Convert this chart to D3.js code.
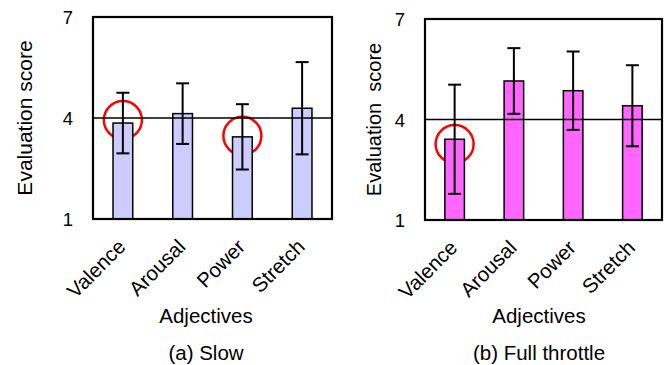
<!DOCTYPE html>
<html>
<head>
<meta charset="utf-8">
<script src="https://cdn.jsdelivr.net/npm/d3@7"></script>
<style>
  body { margin: 0; background: #fff; }
  text { font-family: Arial, "Liberation Sans", sans-serif; fill: #000; }
</style>
</head>
<body>
<div id="chart"></div>
<script>
var adjectives = ['Valence', 'Arousal', 'Power', 'Stretch']
var yTicks = [1, 4, 7]

var slowMean = [3.85, 4.13, 3.44, 4.29]
var slowSd = [0.9, 0.9, 0.97, 1.37]
var slowCircled = [0, 2]
var slowCircleAt = [3.94, 3.47]

var fullMean = [3.41, 5.15, 4.86, 4.41]
var fullSd = [1.63, 0.98, 1.17, 1.21]
var fullCircled = [0]
var fullCircleAt = [3.27]

var width = 668
var height = 365

var svg = d3.select('#chart').append('svg')
      .attr('width', width)
      .attr('height', height)

function drawPanel (opt) {
  var x = d3.scaleBand().domain(adjectives).range([opt.left, opt.right]).paddingInner(0.67).paddingOuter(0.335)
  var y = d3.scaleLinear().domain([1, 7]).range([opt.bottom, opt.top])
  var g = svg.append('g')
  var cx = function (d, i) { return x(adjectives[i]) + x.bandwidth() / 2 }

  // red circles first, lines go over them
  g.selectAll('circle.mark')
      .data(opt.circled)
      .enter().append('circle')
      .attr('cx', function (i) { return x(adjectives[i]) + x.bandwidth() / 2 })
      .attr('cy', function (i, k) { return y(opt.circleAt[k]) })
      .attr('r', 19)
      .attr('fill', 'none')
      .attr('stroke', '#ff0000')
      .attr('stroke-width', 2.5)

  g.selectAll('rect.bar')
      .data(opt.mean)
      .enter().append('rect')
      .attr('x', function (d, i) { return x(adjectives[i]) })
      .attr('y', function (d) { return y(d) })
      .attr('width', x.bandwidth())
      .attr('height', function (d) { return y(1) - y(d) })
      .attr('fill', opt.color)
      .attr('stroke', '#000')
      .attr('stroke-width', 1.5)

  // neutral line at 4
  g.append('line')
      .attr('x1', opt.left).attr('x2', opt.right)
      .attr('y1', y(4)).attr('y2', y(4))
      .attr('stroke', '#000').attr('stroke-width', 1.5)

  var err = g.selectAll('g.err')
      .data(opt.mean)
      .enter().append('g')
      .attr('stroke', '#000').attr('stroke-width', 2)
  err.append('line')
      .attr('x1', cx).attr('x2', cx)
      .attr('y1', function (d, i) { return y(d + opt.sd[i]) })
      .attr('y2', function (d, i) { return y(d - opt.sd[i]) })
  ;[1, -1].forEach(function (s) {
    err.append('line')
        .attr('x1', function (d, i) { return cx(d, i) - 6.5 })
        .attr('x2', function (d, i) { return cx(d, i) + 6.5 })
        .attr('y1', function (d, i) { return y(d + s * opt.sd[i]) })
        .attr('y2', function (d, i) { return y(d + s * opt.sd[i]) })
  })

  // frame
  g.append('rect')
      .attr('x', opt.left).attr('y', opt.top)
      .attr('width', opt.right - opt.left).attr('height', opt.bottom - opt.top)
      .attr('fill', 'none').attr('stroke', '#000').attr('stroke-width', 2.2)

  var yAxis = d3.axisLeft(y).tickValues(yTicks).tickFormat(d3.format('d')).tickSize(0)
  var ya = g.append('g')
      .attr('transform', 'translate(' + opt.left + ',0)')
      .call(yAxis)
  ya.select('.domain').remove()
  ya.selectAll('text')
      .attr('font-size', 18.5)
      .attr('text-anchor', 'middle')
      .attr('x', -25)
      .attr('dy', '0.36em')

  var xa = g.append('g')
      .attr('transform', 'translate(0,' + opt.bottom + ')')
      .call(d3.axisBottom(x).tickSize(0).tickPadding(0))
  xa.select('.domain').remove()
  xa.selectAll('text')
      .attr('font-size', 20.5)
      .attr('text-anchor', 'end')
      .attr('y', 0).attr('dy', 0)
      .attr('transform', 'translate(4,29) rotate(-45)')

  g.append('text')
      .attr('transform', 'translate(' + opt.yTitleX + ',' + (opt.top + opt.bottom) / 2 + ') rotate(-90)')
      .attr('text-anchor', 'middle')
      .attr('dy', '0.35em')
      .attr('font-size', opt.yTitleSize)
      .style('white-space', 'pre')
      .text(opt.yTitle)

  g.append('text')
      .attr('x', opt.titleX).attr('y', 323)
      .attr('text-anchor', 'middle')
      .attr('font-size', 20.5)
      .text('Adjectives')

  g.append('text')
      .attr('x', opt.titleX).attr('y', 360)
      .attr('text-anchor', 'middle')
      .attr('font-size', 20.5)
      .text(opt.caption)
}

drawPanel({
  left: 93, right: 332, top: 17, bottom: 219,
  mean: slowMean, sd: slowSd, circled: slowCircled, circleAt: slowCircleAt,
  color: '#ccccff', yTitle: 'Evaluation score', yTitleX: 25, yTitleSize: 21,
  titleX: 206, caption: '(a) Slow'
})

drawPanel({
  left: 425, right: 662, top: 19, bottom: 220,
  mean: fullMean, sd: fullSd, circled: fullCircled, circleAt: fullCircleAt,
  color: '#ff66ff', yTitle: 'Evaluation  score', yTitleX: 374, yTitleSize: 20,
  titleX: 539, caption: '(b) Full throttle'
})
</script>
</body>
</html>
